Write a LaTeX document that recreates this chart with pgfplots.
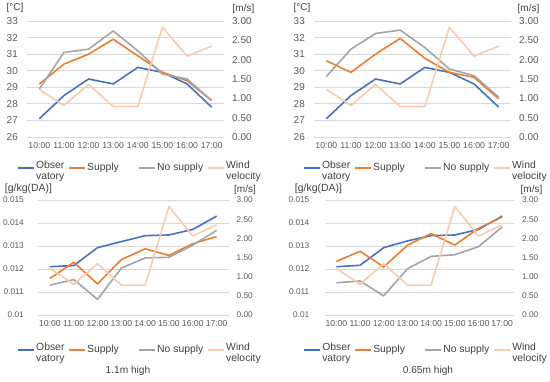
\documentclass[border=0pt]{standalone}
\usepackage{fontspec}
\setmainfont{Liberation Sans}
\usepackage{pgfplots}
\pgfplotsset{compat=1.18}
\definecolor{obs}{HTML}{4472C4}
\definecolor{sup}{HTML}{ED7D31}
\definecolor{nos}{HTML}{A5A5A5}
\definecolor{wind}{HTML}{F8CBAD}
\definecolor{gridc}{HTML}{D9D9D9}
\definecolor{tickc}{HTML}{595959}
\definecolor{txtc}{HTML}{404040}
\newcommand{\lgd}[2]{\makebox[#1][l]{\renewcommand{\arraystretch}{0.92}\begin{tabular}[c]{@{}l@{}}#2\end{tabular}}}
\pgfplotsset{
 basex/.style={scale only axis, anchor=south west, xmin=-0.5, xmax=7.5,
   xtick={0,...,7}, xticklabels={10:00,11:00,12:00,13:00,14:00,15:00,16:00,17:00},
   axis line style={draw=none}, major tick length=0pt, tick style={draw=none},
   /pgf/number format/assume math mode=true, scaled y ticks=false,
   xticklabel style={font=\fontsize{8.7}{9}\selectfont, text=tickc, inner sep=0pt, yshift=-5bp},
   every axis plot/.append style={line width=1.6bp, mark=none, line join=round},
   legend cell align=left, legend columns=4,
   legend style={draw=none, fill=none, inner sep=0pt, column sep=0pt, row sep=0pt, anchor=west,
     nodes={inner sep=1bp, font=\fontsize{10.4}{12}\selectfont, text=txtc}},
   legend image code/.code={\draw[##1, line width=2bp] (0bp,0bp) -- (16bp,0bp);}},
 leftax/.style={basex, ymajorgrids, grid style={gridc, line width=0.8bp},
   yticklabel style={text=tickc, inner sep=0pt, xshift=-9bp}},
 rightax/.style={basex, axis x line=none, axis y line*=right, ymin=0, ymax=3, ytick={0,0.5,...,3},
   yticklabel style={text=tickc, inner sep=0pt, xshift=8bp,
     /pgf/number format/fixed, /pgf/number format/fixed zerofill, /pgf/number format/precision=2}},
}
\newcommand{\legendset}{%
\addlegendimage{obs}\addlegendentry{\lgd{31bp}{Obser\\vatory}}
\addlegendimage{sup}\addlegendentry{\lgd{50bp}{Supply}}
\addlegendimage{nos}\addlegendentry{\lgd{49bp}{No supply}}
\addlegendimage{wind}\addlegendentry{\lgd{36bp}{Wind\\velocity}}}
\begin{document}
\begin{tikzpicture}[x=1bp,y=1bp]
\useasboundingbox (0,0) rectangle (550,381);
% ---------------- top left
\begin{axis}[leftax, at={(27bp,244bp)}, width=197bp, height=116bp,
  ymin=26, ymax=33, ytick={26,...,33}, yticklabel style={font=\fontsize{10}{11}\selectfont}]
\addplot[obs] coordinates {(0,27.1)(1,28.5)(2,29.5)(3,29.2)(4,30.2)(5,29.9)(6,29.2)(7,27.8)};
\addplot[sup] coordinates {(0,29.2)(1,30.4)(2,31.0)(3,31.9)(4,30.9)(5,29.9)(6,29.4)(7,28.2)};
\addplot[nos] coordinates {(0,28.9)(1,31.1)(2,31.3)(3,32.4)(4,31.2)(5,29.8)(6,29.5)(7,28.2)};
\end{axis}
\begin{axis}[rightax, at={(27bp,244bp)}, width=197bp, height=116bp,
  yticklabel style={font=\fontsize{10}{11}\selectfont},
  legend style={at={(-0.051,-0.2672)}}]
\legendset
\addplot[wind, forget plot] coordinates {(0,1.23)(1,0.82)(2,1.36)(3,0.79)(4,0.79)(5,2.84)(6,2.09)(7,2.35)};
\end{axis}
% ---------------- top right
\begin{axis}[leftax, at={(314bp,244bp)}, width=197bp, height=116bp,
  ymin=26, ymax=33, ytick={26,...,33}, yticklabel style={font=\fontsize{10}{11}\selectfont}]
\addplot[obs] coordinates {(0,27.1)(1,28.5)(2,29.5)(3,29.2)(4,30.2)(5,29.9)(6,29.2)(7,27.8)};
\addplot[sup] coordinates {(0,30.6)(1,29.9)(2,31.0)(3,31.95)(4,30.75)(5,29.9)(6,29.6)(7,28.3)};
\addplot[nos] coordinates {(0,29.65)(1,31.3)(2,32.25)(3,32.45)(4,31.4)(5,30.1)(6,29.7)(7,28.4)};
\end{axis}
\begin{axis}[rightax, at={(314bp,244bp)}, width=197bp, height=116bp,
  yticklabel style={font=\fontsize{10}{11}\selectfont},
  legend style={at={(-0.056,-0.2672)}}]
\legendset
\addplot[wind, forget plot] coordinates {(0,1.23)(1,0.82)(2,1.36)(3,0.79)(4,0.79)(5,2.84)(6,2.09)(7,2.35)};
\end{axis}
% ---------------- bottom left
\begin{axis}[leftax, at={(38bp,66bp)}, width=190.5bp, height=115bp,
  ymin=0.01, ymax=0.015, ytick={0.01,0.011,0.012,0.013,0.014,0.015},
  yticklabels={0.01,0.011,0.012,0.013,0.014,0.015},
  yticklabel style={font=\fontsize{8.3}{9}\selectfont, xshift=-5bp}]
\addplot[obs] coordinates {(0,0.01210)(1,0.01215)(2,0.01293)(3,0.01319)(4,0.01345)(5,0.01348)(6,0.01372)(7,0.01430)};
\addplot[sup] coordinates {(0,0.01159)(1,0.01229)(2,0.01135)(3,0.01241)(4,0.01288)(5,0.01259)(6,0.01310)(7,0.01341)};
\addplot[nos] coordinates {(0,0.01130)(1,0.01154)(2,0.01068)(3,0.01204)(4,0.01248)(5,0.01251)(6,0.01304)(7,0.01368)};
\end{axis}
\begin{axis}[rightax, at={(38bp,66bp)}, width=190.5bp, height=115bp,
  yticklabel style={font=\fontsize{8.3}{9}\selectfont},
  legend style={at={(-0.110,-0.3043)}}]
\legendset
\addplot[wind, forget plot] coordinates {(0,1.22)(1,0.80)(2,1.34)(3,0.78)(4,0.78)(5,2.83)(6,2.06)(7,2.35)};
\end{axis}
% ---------------- bottom right
\begin{axis}[leftax, at={(324.5bp,66bp)}, width=189.5bp, height=115bp,
  ymin=0.01, ymax=0.015, ytick={0.01,0.011,0.012,0.013,0.014,0.015},
  yticklabels={0.01,0.011,0.012,0.013,0.014,0.015},
  yticklabel style={font=\fontsize{8.3}{9}\selectfont, xshift=-6bp}]
\addplot[obs] coordinates {(0,0.01210)(1,0.01216)(2,0.01293)(3,0.01322)(4,0.01345)(5,0.01348)(6,0.01372)(7,0.01430)};
\addplot[sup] coordinates {(0,0.01233)(1,0.01277)(2,0.01209)(3,0.01303)(4,0.01354)(5,0.01304)(6,0.01377)(7,0.01426)};
\addplot[nos] coordinates {(0,0.01140)(1,0.01148)(2,0.01083)(3,0.01201)(4,0.01255)(5,0.01262)(6,0.01297)(7,0.01383)};
\end{axis}
\begin{axis}[rightax, at={(324.5bp,66bp)}, width=189.5bp, height=115bp,
  yticklabel style={font=\fontsize{8.3}{9}\selectfont},
  legend style={at={(-0.113,-0.3043)}}]
\legendset
\addplot[wind, forget plot] coordinates {(0,1.22)(1,0.80)(2,1.34)(3,0.78)(4,0.78)(5,2.83)(6,2.06)(7,2.35)};
\end{axis}
% ---------------- unit labels and titles
\begin{scope}[every node/.style={text=txtc, inner sep=0pt}]
\node[font=\fontsize{10}{11}\selectfont] at (15,373) {[°C]};
\node[font=\fontsize{10}{11}\selectfont] at (243.5,372.5) {[m/s]};
\node[font=\fontsize{10}{11}\selectfont] at (302,373) {[°C]};
\node[font=\fontsize{10}{11}\selectfont] at (528.5,372.5) {[m/s]};
\node[font=\fontsize{10.5}{11}\selectfont] at (28.5,192.5) {[g/kg(DA)]};
\node[font=\fontsize{10}{11}\selectfont] at (245,191) {[m/s]};
\node[font=\fontsize{10.5}{11}\selectfont] at (318.5,192.5) {[g/kg(DA)]};
\node[font=\fontsize{10}{11}\selectfont] at (531.5,191) {[m/s]};
\node[font=\fontsize{10.2}{11}\selectfont] at (128,10.5) {1.1m high};
\node[font=\fontsize{10.2}{11}\selectfont] at (428,10.5) {0.65m high};
\end{scope}
\end{tikzpicture}
\end{document}
